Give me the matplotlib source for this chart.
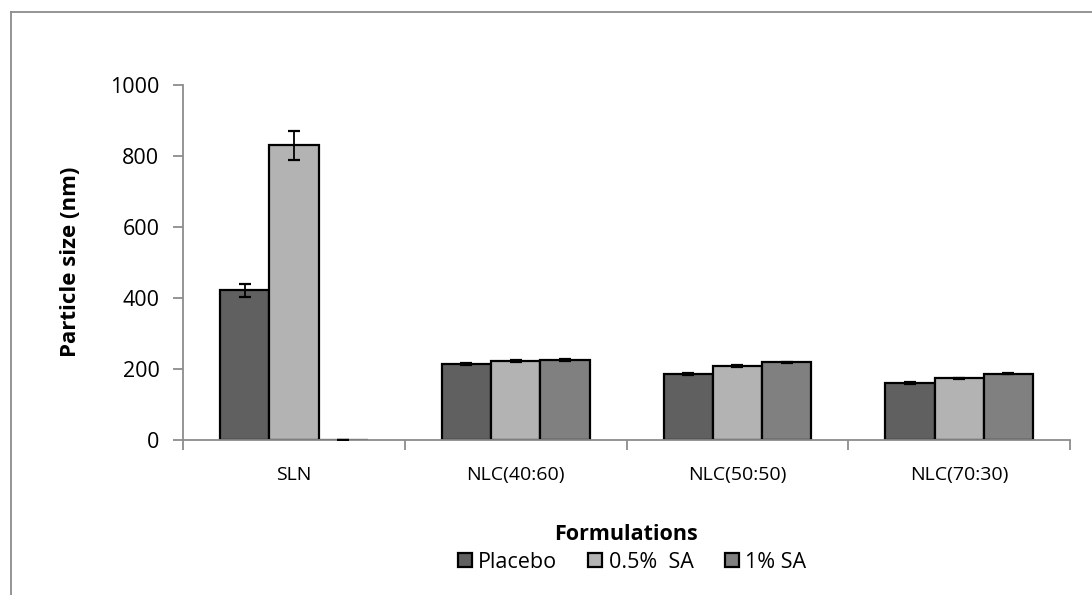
import numpy as np
import matplotlib
matplotlib.use("Agg")
import matplotlib.pyplot as plt
from matplotlib.lines import Line2D

plt.rcParams['font.family'] = ['Open Sans', 'DejaVu Sans']

formulations = ["SLN", "NLC(40:60)", "NLC(50:50)", "NLC(70:30)"]
series_names = ["Placebo", "0.5%  SA", "1% SA"]
placebo = [422, 214, 187, 161]
sa_05 = [830, 222, 209, 174]
sa_1 = [0, 225, 219, 187]
placebo_err = [18, 3, 3, 3]
sa_05_err = [42, 3, 3, 2]
sa_1_err = [0, 2, 2, 2]
bar_colors = ["#606060", "#b3b3b3", "#808080"]

fig = plt.figure(figsize=(10.92, 5.95), dpi=100)
ax = fig.add_axes([0.1676, 0.2605, 0.8123, 0.5965])

x = np.arange(len(formulations))
width = 0.222
values = [placebo, sa_05, sa_1]
errors = [placebo_err, sa_05_err, sa_1_err]
for i, (vals, errs) in enumerate(zip(values, errors)):
    pos = x + (i - 1) * width
    ax.bar(pos, vals, width, color=bar_colors[i], edgecolor="black",
           linewidth=1.6, label=series_names[i], zorder=2)
    ax.errorbar(pos, vals, yerr=errs, fmt="none", ecolor="black",
                elinewidth=1.3, capsize=4.5, capthick=1.6, zorder=3)

ax.set_xlim(-0.5, len(formulations) - 0.5)
ax.set_ylim(0, 1000)
ax.set_yticks(range(0, 1001, 200))
ax.set_xticks(x)
ax.set_xticklabels(formulations)
ax.set_xticks(np.arange(-0.5, len(formulations), 1), minor=True)

for s in ["top", "right"]:
    ax.spines[s].set_visible(False)
for s in ["left", "bottom"]:
    ax.spines[s].set_color("#8c8c8c")
    ax.spines[s].set_linewidth(1.3)
ax.tick_params(axis="x", which="major", length=0, labelsize=14, pad=19)
ax.tick_params(axis="x", which="minor", length=7, width=1.3, color="#8c8c8c")
ax.tick_params(axis="y", length=7, width=1.3, color="#8c8c8c", labelsize=15.5, pad=10)

fig.text(71 / 1092, 1 - 262 / 595, "Particle size (nm)", fontsize=16,
         fontweight="bold", rotation=90, ha="center", va="center")
fig.text(626.5 / 1092, 1 - 535 / 595, "Formulations", fontsize=15.5,
         fontweight="bold", ha="center", va="center")

fig.legend(*ax.get_legend_handles_labels(), loc="center",
           bbox_to_anchor=(632 / 1092, 1 - 562 / 595), ncol=3,
           frameon=False, fontsize=15.5, handlelength=0.65, handleheight=0.65,
           handletextpad=0.3, columnspacing=1.45, borderaxespad=0)

# outer chart frame (left and top edges only)
fig.add_artist(Line2D([0.0101, 0.0101], [0, 0.979], transform=fig.transFigure,
                      color="#8c8c8c", linewidth=1.3))
fig.add_artist(Line2D([0.0101, 1.0], [0.979, 0.979], transform=fig.transFigure,
                      color="#8c8c8c", linewidth=1.3))

fig.savefig("out.png", dpi=100)
